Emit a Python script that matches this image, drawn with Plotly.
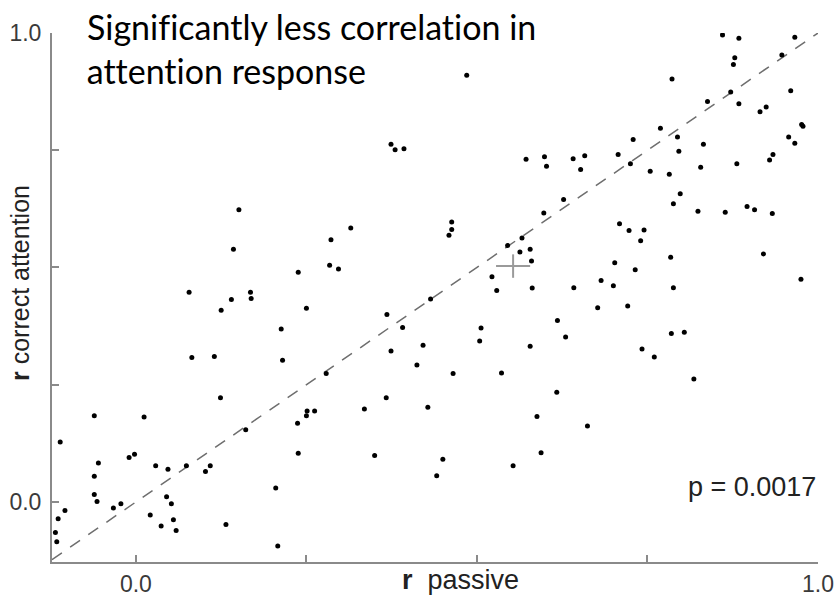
import plotly.graph_objects as go

# r passive (x) and r correct attention (y) for each unit
r_passive = [
    0.151, 0.143, 0.238, 0.078, 0.168, 0.140, 0.169, 0.125, 0.213, 0.082,
    0.115, 0.215, 0.124, -0.061, 0.012, -0.111, 0.161, 0.237, 0.238, -0.010,
    -0.002, -0.055, 0.029, 0.047, 0.074, 0.109, 0.102, -0.061, 0.205, -0.061,
    -0.057, 0.045, 0.052, -0.104, -0.033, -0.022, -0.114, 0.021, 0.055, 0.037,
    0.132, 0.059, -0.118, -0.116, 0.208, 0.374, 0.380, 0.393, 0.572, 0.599,
    0.602, 0.598, 0.463, 0.463, 0.459, 0.315, 0.286, 0.284, 0.297, 0.566,
    0.545, 0.563, 0.578, 0.580, 0.522, 0.529, 0.581, 0.250, 0.432, 0.368,
    0.391, 0.506, 0.504, 0.374, 0.421, 0.578, 0.412, 0.279, 0.465, 0.536,
    0.367, 0.617, 0.335, 0.428, 0.251, 0.250, 0.262, 0.588, 0.350, 0.450,
    0.594, 0.553, 0.441, 0.838, 0.884, 0.915, 0.924, 0.976, 0.978, 0.769,
    0.729, 0.794, 0.832, 0.957, 0.966, 0.641, 0.658, 0.707, 0.652, 0.725,
    0.796, 0.754, 0.782, 0.828, 0.881, 0.934, 0.929, 0.627, 0.798, 0.788,
    0.824, 0.864, 0.896, 0.907, 0.933, 0.709, 0.723, 0.745, 0.740, 0.784,
    0.920, 0.702, 0.732, 0.682, 0.700, 0.788, 0.642, 0.975, 0.677, 0.721,
    0.618, 0.630, 0.785, 0.804, 0.742, 0.760, 0.818, 0.860, 0.884, 0.966,
    0.878, 0.876, 0.947, 0.786, 0.960, 0.872, 0.662, 0.485,
]
r_attention = [
    0.623, 0.539, 0.490, 0.447, 0.447, 0.432, 0.434, 0.409, 0.369, 0.308,
    0.310, 0.302, 0.222, 0.184, 0.181, 0.128, 0.154, 0.168, 0.104, 0.095,
    0.102, 0.083, 0.077, 0.070, 0.077, 0.077, 0.065, 0.055, 0.030, 0.016,
    0.001, 0.011, -0.004, -0.018, -0.013, -0.004, -0.036, -0.028, -0.038, -0.051,
    -0.048, -0.061, -0.065, -0.085, -0.094, 0.763, 0.751, 0.753, 0.731, 0.736,
    0.716, 0.616, 0.597, 0.581, 0.569, 0.584, 0.559, 0.505, 0.497, 0.563,
    0.547, 0.533, 0.539, 0.514, 0.480, 0.451, 0.456, 0.413, 0.433, 0.400,
    0.372, 0.371, 0.343, 0.322, 0.334, 0.332, 0.292, 0.274, 0.274, 0.275,
    0.222, 0.234, 0.198, 0.202, 0.194, 0.184, 0.194, 0.182, 0.099, 0.091,
    0.105, 0.077, 0.056, 0.854, 0.849, 0.832, 0.842, 0.805, 0.801, 0.797,
    0.773, 0.778, 0.763, 0.778, 0.765, 0.732, 0.738, 0.741, 0.709, 0.721,
    0.748, 0.705, 0.699, 0.714, 0.721, 0.741, 0.729, 0.645, 0.657, 0.636,
    0.620, 0.618, 0.630, 0.623, 0.615, 0.593, 0.579, 0.580, 0.557, 0.522,
    0.529, 0.510, 0.495, 0.472, 0.461, 0.457, 0.457, 0.475, 0.414, 0.418,
    0.387, 0.352, 0.359, 0.362, 0.326, 0.309, 0.262, 0.996, 0.989, 0.991,
    0.947, 0.933, 0.953, 0.902, 0.877, 0.874, 0.162, 0.910,
]

# population mean marker (cross)
mean_passive = 0.553
mean_attention = 0.503
cross_half = 0.025

x_range = [-0.123, 1.0]
y_range = [-0.128, 1.0]
tick_vals = [0.0, 0.25, 0.5, 0.75, 1.0]
tick_text = ["0.0", "", "", "", "1.0"]

title_lines = ["Significantly less correlation in", "attention response"]
p_text = "p = 0.0017"

fig = go.Figure()

# unity line
fig.add_trace(go.Scatter(
    x=[x_range[0], x_range[1]], y=[x_range[0], x_range[1]],
    mode="lines", line=dict(color="#6e6e6e", width=1.5, dash="12px,10px"),
    hoverinfo="skip", showlegend=False,
))

# mean cross
fig.add_trace(go.Scatter(
    x=[mean_passive - cross_half, mean_passive + cross_half, None, mean_passive, mean_passive],
    y=[mean_attention, mean_attention, None, mean_attention - cross_half, mean_attention + cross_half],
    mode="lines", line=dict(color="#9a9a9a", width=2),
    hoverinfo="skip", showlegend=False,
))

# units
fig.add_trace(go.Scatter(
    x=r_passive, y=r_attention, mode="markers",
    marker=dict(color="black", size=5),
    showlegend=False,
))

axis_common = dict(
    showgrid=False, zeroline=False, showline=True, automargin=False,
    linecolor="#8a8a8a", linewidth=2,
    ticks="inside", ticklen=7, tickwidth=1.5, tickcolor="#8a8a8a",
    tickvals=tick_vals, ticktext=tick_text,
    tickfont=dict(family="Arial, Liberation Sans, sans-serif", size=23, color="#3a3a3a"),
)

fig.update_layout(
    width=838, height=596,
    margin=dict(l=52, r=20, t=33, b=34, autoexpand=False),
    paper_bgcolor="white", plot_bgcolor="white",
    xaxis=dict(range=x_range, **axis_common),
    yaxis=dict(range=y_range, ticklabelstandoff=4, **axis_common),
    showlegend=False,
)

title_font = dict(family="Lato, Noto Sans, sans-serif", size=34, color="black")
fig.add_annotation(text=title_lines[0], xref="paper", yref="paper",
                   x=(85 - 52) / 766, y=(562 - 26) / 529,
                   xanchor="left", yanchor="middle", showarrow=False, font=title_font)
fig.add_annotation(text=title_lines[1], xref="paper", yref="paper",
                   x=(85 - 52) / 766, y=(562 - 70) / 529,
                   xanchor="left", yanchor="middle", showarrow=False, font=title_font)

fig.add_annotation(text=p_text, xref="paper", yref="paper",
                   x=1.0, y=(562 - 487) / 529, xanchor="right", yanchor="middle",
                   showarrow=False,
                   font=dict(family="Arial, Liberation Sans, sans-serif", size=27, color="#222222"))

fig.add_annotation(text="<b>r</b>&nbsp; passive", xref="paper", yref="paper",
                   x=(461 - 52) / 766, y=(562 - 580) / 529, xanchor="center", yanchor="middle",
                   showarrow=False,
                   font=dict(family="Arial, Liberation Sans, sans-serif", size=27, color="#222222"))

fig.add_annotation(text="<b>r</b> correct attention", xref="paper", yref="paper",
                   x=(20 - 52) / 766, y=(562 - 283) / 529, xanchor="center", yanchor="middle",
                   textangle=-90, showarrow=False,
                   font=dict(family="Arial, Liberation Sans, sans-serif", size=25, color="#222222"))

page_fix = (
    "document.body.style.margin='0';"
    "document.body.style.overflow='hidden';"
    "var st=document.createElement('style');"
    "st.textContent='text{font-variant-ligatures:none;font-feature-settings:\"liga\" 0;}';"
    "document.head.appendChild(st);"
)

fig.write_html(
    "out.html",
    config={"displayModeBar": False},
    post_script=page_fix,
)
